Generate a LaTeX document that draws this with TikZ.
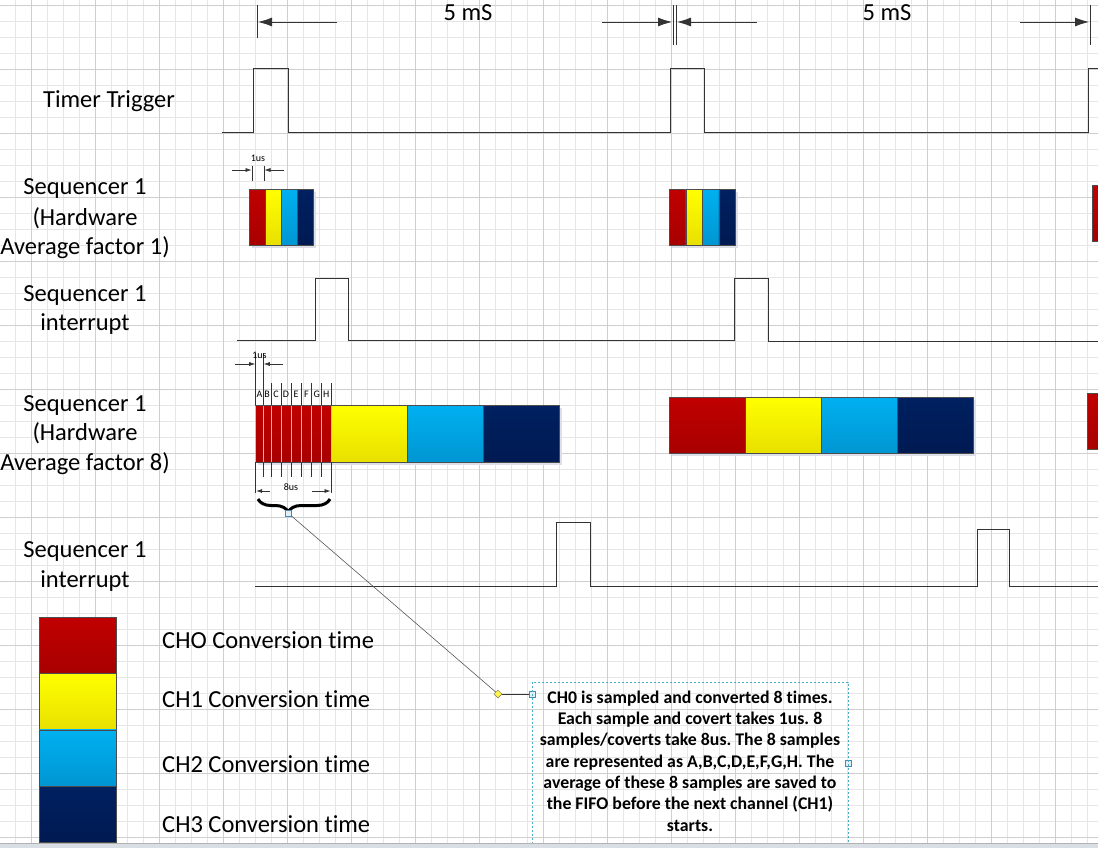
\documentclass[tikz,border=0pt]{standalone}
\usepackage{fontspec}
\setmainfont{Carlito}[Ligatures=NoCommon]
\usetikzlibrary{arrows.meta,decorations.pathreplacing,shapes.geometric}
\definecolor{cRed}{HTML}{C00000}
\definecolor{cRedB}{HTML}{A80000}
\definecolor{cYel}{HTML}{FFFF00}
\definecolor{cYelB}{HTML}{E8E000}
\definecolor{cCyan}{HTML}{00B0F0}
\definecolor{cCyanB}{HTML}{0096D2}
\definecolor{cNavy}{HTML}{002060}
\definecolor{cNavyB}{HTML}{001A52}
\definecolor{gMinor}{HTML}{E6E6E6}
\definecolor{gMajor}{HTML}{CFCFCF}
\definecolor{ink}{HTML}{333333}
\definecolor{boxline}{HTML}{4BACC6}
\definecolor{handle}{HTML}{3C8DC0}
\definecolor{shadowc}{HTML}{DDE0E8}
\definecolor{stripc}{HTML}{D9DDE4}
\newcommand\fbig{\fontsize{24.5}{29.5}\selectfont}
\newcommand\fsmall{\fontsize{10}{11}\selectfont}
\newcommand\fnote{\bfseries\fontsize{17.8}{21}\selectfont}
\frenchspacing
\tikzset{
  gminorline/.style={draw=gMinor, line width=0.5pt},
  gmajorline/.style={draw=gMajor, line width=0.5pt},
  lab/.style={font=\fbig, inner sep=0pt, anchor=base, text=black},
  leglab/.style={font=\fbig, inner sep=0pt, anchor=base west, text=black},
  notelab/.style={font=\fnote, inner sep=0pt, anchor=base, text=black},
  smalllab/.style={font=\fsmall, inner sep=0pt, anchor=base, text=black},
  wave/.style={draw=ink, line width=1pt},
  dimline/.style={draw=ink, line width=0.8pt},
  bigarrow/.style={draw=ink, line width=0.8pt, -{Latex[length=14pt,width=9pt]}},
  tinyarrow/.style={draw=ink, line width=0.6pt, -{Latex[length=6pt,width=4pt]}},
  tick/.style={draw=ink, line width=0.6pt},
  blk/.style={rectangle, anchor=north west, inner sep=0pt, draw=black!70, line width=0.6pt},
  redblk/.style={blk, top color=cRed, bottom color=cRedB},
  yelblk/.style={blk, top color=cYel, bottom color=cYelB},
  cyanblk/.style={blk, top color=cCyan, bottom color=cCyanB},
  navyblk/.style={blk, top color=cNavy, bottom color=cNavyB},
  handlebox/.style={rectangle, draw=handle, fill=handle!15, minimum size=6pt, inner sep=0pt, line width=0.6pt},
}
\begin{document}
\frenchspacing
\begin{tikzpicture}[x=1pt,y=-1pt]
\useasboundingbox (0,0) rectangle (1098,848);
\clip (0,0) rectangle (1098,848);
\fill[white] (0,0) rectangle (1098,848);
% grid
\foreach \i in {0,...,68} { \draw[gminorline] ({15+16*\i},0) -- ({15+16*\i},848); }
\foreach \j in {0,...,53} { \draw[gminorline] (0,{5+16*\j}) -- (1098,{5+16*\j}); }
\foreach \i in {0,...,17} { \draw[gmajorline] ({31+64*\i},0) -- ({31+64*\i},848); }
\foreach \j in {0,...,13} { \draw[gmajorline] (0,{5+64*\j}) -- (1098,{5+64*\j}); }

% ---- top dimension
\coordinate (t0a) at (257,5);  \coordinate (t0b) at (257,38);
\coordinate (t1a) at (673,5);  \coordinate (t1b) at (673,45);
\coordinate (t2a) at (676,5);  \coordinate (t2b) at (676,45);
\coordinate (t3a) at (1090,5); \coordinate (t3b) at (1090,45);
\draw[dimline] (t0a) -- (t0b);
\draw[dimline] (t1a) -- (t1b);
\draw[dimline] (t2a) -- (t2b);
\draw[dimline] (t3a) -- (t3b);
\coordinate (a1s) at (337,22); \coordinate (a1e) at (258,22);
\coordinate (a2s) at (602,22); \coordinate (a2e) at (672,22);
\coordinate (a3s) at (757,22); \coordinate (a3e) at (677,22);
\coordinate (a4s) at (1020,22); \coordinate (a4e) at (1089,22);
\draw[bigarrow] (a1s) -- (a1e);
\draw[bigarrow] (a2s) -- (a2e);
\draw[bigarrow] (a3s) -- (a3e);
\draw[bigarrow] (a4s) -- (a4e);
\node[lab] (p1) at (468,21) {5 mS};
\node[lab] (p2) at (887,21) {5 mS};

% ---- row labels
\node[lab] (ltt) at (109,108) {Timer Trigger};
\node[lab] (ls1a) at (85,194) {Sequencer 1};
\node[lab] (ls1b) at (85,225) {(Hardware};
\node[lab] (ls1c) at (85,254.5) {Average factor 1)};
\node[lab] (li1a) at (85,301) {Sequencer 1};
\node[lab] (li1b) at (85,330) {interrupt};
\node[lab] (ls8a) at (85,411) {Sequencer 1};
\node[lab] (ls8b) at (85,440.5) {(Hardware};
\node[lab] (ls8c) at (85,470) {Average factor 8)};
\node[lab] (li2a) at (85,557.5) {Sequencer 1};
\node[lab] (li2b) at (85,587) {interrupt};

% ---- waveforms
\draw[wave] (222,133) -- (253,133) -- (253,69) -- (288,69) -- (288,133) -- (670,133) -- (670,69) -- (704,69) -- (704,133) -- (1088,133) -- (1088,69) -- (1100,69);
\draw[wave] (237,340) -- (315,340) -- (315,278) -- (348,278) -- (348,340) -- (734,340) -- (734,278) -- (768,278) -- (768,341) -- (1100,341);
\draw[wave] (255,586) -- (556,586) -- (556,522) -- (590,522) -- (590,586) -- (977,586) -- (977,529) -- (1009,529) -- (1009,586) -- (1100,586);

% ---- Sequencer 1 factor 1 blocks
\fill[shadowc] (252,192) rectangle (316,248);
\fill[shadowc] (672,192) rectangle (738,248);
\node[redblk, minimum width=16pt, minimum height=56pt] (f1r) at (249,189) {};
\node[yelblk, minimum width=16pt, minimum height=56pt] (f1y) at (265,189) {};
\node[cyanblk, minimum width=16pt, minimum height=56pt] (f1c) at (281,189) {};
\node[navyblk, minimum width=16pt, minimum height=56pt] (f1n) at (297,189) {};
\node[redblk, minimum width=16.5pt, minimum height=56pt] (g1r) at (669,189) {};
\node[yelblk, minimum width=16.5pt, minimum height=56pt] (g1y) at (685.5,189) {};
\node[cyanblk, minimum width=16.5pt, minimum height=56pt] (g1c) at (702,189) {};
\node[navyblk, minimum width=16.5pt, minimum height=56pt] (g1n) at (718.5,189) {};
\node[redblk, minimum width=16pt, minimum height=56pt] (h1r) at (1092,185) {};
% 1us dimension (factor 1)
\coordinate (u1a) at (252,166); \coordinate (u1b) at (252,181);
\coordinate (u2a) at (264,166); \coordinate (u2b) at (264,181);
\draw[tick] (u1a) -- (u1b);
\draw[tick] (u2a) -- (u2b);
\coordinate (u3s) at (232,170); \coordinate (u3e) at (251.5,170);
\coordinate (u4s) at (284,170); \coordinate (u4e) at (264.5,170);
\draw[tinyarrow] (u3s) -- (u3e);
\draw[tinyarrow] (u4s) -- (u4e);
\node[smalllab] (us1) at (258,161) {1us};

% ---- Sequencer 1 factor 8 blocks
\fill[shadowc] (258,408) rectangle (562,465);
\fill[shadowc] (672,400) rectangle (976,456);
\node[redblk, minimum width=76pt, minimum height=57pt] (e8r) at (255,405) {};
\node[yelblk, minimum width=76pt, minimum height=57pt] (e8y) at (331,405) {};
\node[cyanblk, minimum width=76pt, minimum height=57pt] (e8c) at (407,405) {};
\node[navyblk, minimum width=76pt, minimum height=57pt] (e8n) at (483,405) {};
\node[redblk, minimum width=76pt, minimum height=56pt] (k8r) at (669,397) {};
\node[yelblk, minimum width=76pt, minimum height=56pt] (k8y) at (745,397) {};
\node[cyanblk, minimum width=76pt, minimum height=56pt] (k8c) at (821,397) {};
\node[navyblk, minimum width=76pt, minimum height=56pt] (k8n) at (897,397) {};
\node[redblk, minimum width=16pt, minimum height=56pt] (m8r) at (1087,393) {};

% sample lines A..H
\foreach \x/\top/\bot in {255.7/353/493, 263.3/353/477, 271/383/477, 281/383/477, 291/383/477, 301/383/477, 311.7/383/477, 321.7/383/477, 331/383/493} {
  \draw[tick] (\x,\top) -- (\x,405);
  \draw[draw=red!35!white, line width=0.6pt] (\x,405.5) -- (\x,461.5);
  \draw[tick] (\x,462) -- (\x,\bot);
}
\foreach \x/\t in {259.5/A, 267.2/B, 276/C, 286/D, 296/E, 306.3/F, 316.7/G, 326.3/H} {
  \node[smalllab] (s\t) at (\x,397) {\t};
}
\coordinate (v3s) at (235,364); \coordinate (v3e) at (255.2,364);
\coordinate (v4s) at (283,364); \coordinate (v4e) at (263.8,364);
\draw[tinyarrow] (v3s) -- (v3e);
\draw[tinyarrow] (v4s) -- (v4e);
\node[smalllab] (us8) at (259.5,358) {1us};
\coordinate (w1s) at (270,491); \coordinate (w1e) at (256.2,491);
\coordinate (w2s) at (312,491); \coordinate (w2e) at (330.5,491);
\draw[tinyarrow] (w1s) -- (w1e);
\draw[tinyarrow] (w2s) -- (w2e);
\node[smalllab] (us88) at (291,490) {8us};

% brace
\coordinate (br1) at (258,499);
\coordinate (br2) at (330,499);
\draw[line width=3pt, decorate, decoration={brace, mirror, amplitude=13pt, aspect=0.42}] (br1) -- (br2);

% connector to note
\node[handlebox] (hb1) at (288,513) {};
\node[diamond, draw=black!60!yellow, fill=yellow!70, minimum size=8pt, inner sep=0pt, line width=0.5pt] (dm) at (498,694) {};
\node[handlebox] (hb2) at (532,694) {};
\node[handlebox] (hb3) at (848,763) {};
\draw[draw=black!65, line width=0.6pt] (hb1) -- (dm);
\draw[draw=black!80, line width=0.8pt] (dm) -- (hb2);

% note box
\coordinate (nb1) at (532,682);
\coordinate (nb2) at (848,860);
\draw[draw=boxline, line width=0.6pt, dash pattern=on 2pt off 2pt] (nb1) rectangle (nb2);
\node[notelab] (n1) at (690,703) {CH0 is sampled and converted 8 times.};
\node[notelab] (n2) at (690,724.3) {Each sample and covert takes 1us. 8};
\node[notelab] (n3) at (690,745.7) {samples/coverts take 8us. The 8 samples};
\node[notelab] (n4) at (690,767) {are represented as A,B,C,D,E,F,G,H. The};
\node[notelab] (n5) at (690,788.3) {average of these 8 samples are saved to};
\node[notelab] (n6) at (690,809.7) {the FIFO before the next channel (CH1)};
\node[notelab] (n7) at (690,831) {starts.};

% legend
\node[redblk, minimum width=77pt, minimum height=56.25pt] (lr) at (39,617) {};
\node[yelblk, minimum width=77pt, minimum height=56.25pt] (ly) at (39,673.25) {};
\node[cyanblk, minimum width=77pt, minimum height=56.25pt] (lc) at (39,729.5) {};
\node[navyblk, minimum width=77pt, minimum height=56.25pt] (ln) at (39,785.75) {};
\node[leglab] (lt0) at (162,648) {CHO Conversion time};
\node[leglab] (lt1) at (162,707) {CH1 Conversion time};
\node[leglab] (lt2) at (162,772) {CH2 Conversion time};
\node[leglab] (lt3) at (162,832) {CH3 Conversion time};

% bottom strip
\fill[stripc] (0,843) rectangle (1098,848);
\draw[draw=black!30, line width=0.5pt] (0,843) -- (1098,843);
\end{tikzpicture}
\end{document}
